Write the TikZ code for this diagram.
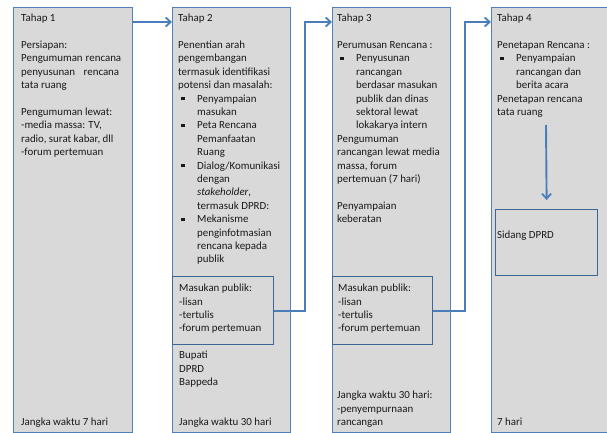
\documentclass[tikz,border=0pt]{standalone}
\usepackage{fontspec}
\setmainfont{Carlito}
\usetikzlibrary{arrows.meta,calc}
\definecolor{colfill}{HTML}{D9D9D9}
\definecolor{colline}{HTML}{5080BA}
\definecolor{boxline}{HTML}{3F6596}
\definecolor{arrblue}{HTML}{4A7EBB}
\newcommand{\bul}{\makebox[19pt][l]{\hspace{3pt}\rule[1.8pt]{3.4pt}{3.4pt}}}
\newcommand{\ind}{\hspace*{19pt}}
\begin{document}
\begin{tikzpicture}[x=1pt,y=-1pt,
  col/.style={draw=colline, fill=colfill, line width=1.2pt, inner sep=0pt, anchor=north west},
  inbox/.style={draw=boxline, line width=1.4pt, inner sep=0pt, anchor=north west},
  txt/.style={font=\fontsize{10.9}{13.4}\selectfont, text=black!90, align=left, inner sep=0pt, anchor=north west},
  btxt/.style={font=\fontsize{10.9}{13.4}\selectfont, text=black!90, inner sep=0pt, anchor=base west},
  arr/.style={draw=arrblue, line width=1.9pt, -{Straight Barb[length=5pt,width=9pt,line width=1.8pt]}}]
\useasboundingbox (0,0) rectangle (607,433);
\fill[white] (0,0) rectangle (607,433);
\clip (0,0) rectangle (607,433);
% columns
\node[col, minimum width=119pt, minimum height=425pt] (c1) at (13,7) {};
\node[col, minimum width=118pt, minimum height=425pt] (c2) at (172,7) {};
\node[col, minimum width=118pt, minimum height=425pt] (c3) at (332,7) {};
\node[col, minimum width=130pt, minimum height=425pt] (c4) at (491,7) {};
% inner boxes
\node[inbox, minimum width=101pt, minimum height=68pt] (mp2) at (172,276) {};
\node[inbox, minimum width=100pt, minimum height=68pt] (mp3) at (332,276) {};
\node[inbox, minimum width=102pt, minimum height=66pt] (sd) at (495,209) {};
% column 1 text
\node[txt] (t1) at (21,14) {Tahap 1\\[13.4pt]
Persiapan:\\
\makebox[100pt][s]{Pengumuman\hfill rencana}\\
\makebox[98pt][s]{penyusunan\hfill rencana}\\
tata ruang\\[13.4pt]
Pengumuman lewat:\\
-media massa: TV,\\
radio, surat kabar, dll\\
-forum pertemuan};
\node[btxt] (b1) at (21,425) {Jangka waktu 7 hari};
% column 2 text
\node[txt] (t2) at (178,14) {Tahap 2\\[13.4pt]
Penentian arah\\
pengembangan\\
termasuk identifikasi\\
potensi dan masalah:\\
\bul Penyampaian\\
\ind masukan\\
\bul Peta Rencana\\
\ind Pemanfaatan\\
\ind Ruang\\
\bul Dialog/Komunikasi\\
\ind dengan\\
\ind \textit{stakeholder},\\
\ind termasuk DPRD:\\
\bul Mekanisme\\
\ind penginfotmasian\\
\ind rencana kepada\\
\ind publik};
\node[txt] (m2) at (179,284) {Masukan publik:\\ -lisan\\ -tertulis\\ -forum pertemuan};
\node[txt] (o2) at (179,351) {Bupati\\ DPRD\\ Bappeda};
\node[btxt] (b2) at (179,425) {Jangka waktu 30 hari};
% column 3 text
\node[txt] (t3) at (337,14) {Tahap 3\\[13.4pt]
Perumusan Rencana :\\
\bul Penyusunan\\
\ind rancangan\\
\ind berdasar masukan\\
\ind publik dan dinas\\
\ind sektoral lewat\\
\ind lokakarya intern\\
Pengumuman\\
rancangan lewat media\\
massa, forum\\
pertemuan (7 hari)\\[13.4pt]
Penyampaian\\
keberatan};
\node[txt] (m3) at (338,284) {Masukan publik:\\ -lisan\\ -tertulis\\ -forum pertemuan};
\node[txt] (b3) at (337,391) {Jangka waktu 30 hari:\\ -penyempurnaan\\ rancangan};
% column 4 text
\node[txt] (t4) at (497,14) {Tahap 4\\[13.4pt]
Penetapan Rencana :\\
\bul Penyampaian\\
\ind rancangan dan\\
\ind berita acara\\
Penetapan rencana\\
tata ruang};
\node[btxt] (s4) at (497,238) {Sidang DPRD};
\node[btxt] (b4) at (497,425) {7 hari};
% connectors
\draw[arr] ($(c1.north east)+(0,15)$) -- ($(c2.north west)+(0,15)$);
\draw[arr] (mp2.east) -- ++(31,0) |- ($(c3.north west)+(0,15)$);
\draw[arr] (mp3.east) -- ++(32,0) |- ($(c4.north west)+(0,15)$);
\coordinate (v4) at (546,125);
\draw[arr, shorten >=9pt] (v4) -- (sd.north);
\end{tikzpicture}
\end{document}
